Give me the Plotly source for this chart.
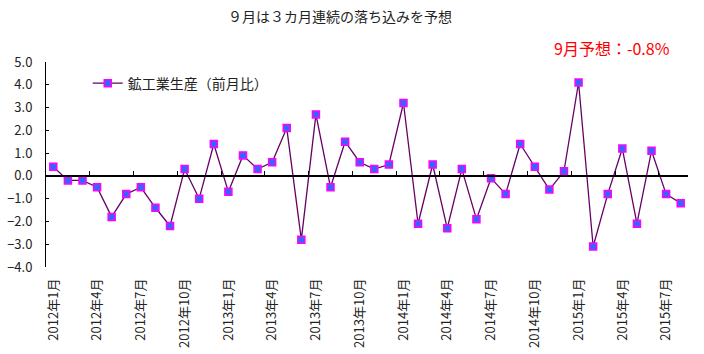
import plotly.graph_objects as go

# Data: monthly industrial production change (前月比, %), 2012年1月 – 2015年8月
years = [2012, 2013, 2014, 2015]
values_2012 = [0.4, -0.2, -0.2, -0.5, -1.8, -0.8, -0.5, -1.4, -2.2, 0.3, -1.0, 1.4]
values_2013 = [-0.7, 0.9, 0.3, 0.6, 2.1, -2.8, 2.7, -0.5, 1.5, 0.6, 0.3, 0.5]
values_2014 = [3.2, -2.1, 0.5, -2.3, 0.3, -1.9, -0.1, -0.8, 1.4, 0.4, -0.6, 0.2]
values_2015 = [4.1, -3.1, -0.8, 1.2, -2.1, 1.1, -0.8, -1.2]

values = values_2012 + values_2013 + values_2014 + values_2015
months = []
for y, vals in zip(years, [values_2012, values_2013, values_2014, values_2015]):
    for m in range(1, len(vals) + 1):
        months.append(f"{y}年{m}月")

idx = list(range(len(values)))
label_idx = idx[::3]
label_text = [months[i] for i in label_idx]
boundary_ticks = [i + 2.5 for i in label_idx if i + 2.5 < len(values) - 1]

series_name = "鉱工業生産（前月比）"
title_text = "９月は３カ月連続の落ち込みを予想"
note_text = "9月予想：-0.8%"

FONT = "Noto Sans CJK JP"
ymin, ymax = -4.0, 5.0
xr = [-0.5, len(values) - 0.5]

fig = go.Figure()
fig.add_trace(go.Scatter(
    x=idx, y=values, mode="lines+markers", name=series_name,
    line=dict(color="#660066", width=1.3),
    marker=dict(symbol="square", size=7, color="#3366FF",
                line=dict(color="#FF00FF", width=1.5)),
    showlegend=True,
))
# invisible trace on label axis
fig.add_trace(go.Scatter(x=idx, y=values, xaxis="x2", mode="lines",
                         line=dict(width=0), hoverinfo="skip",
                         showlegend=False, opacity=0))

zero_pos = (0 - ymin) / (ymax - ymin)

fig.update_layout(
    width=704, height=354,
    margin=dict(l=46, r=16, t=62, b=87),
    paper_bgcolor="white", plot_bgcolor="white",
    font=dict(family=FONT, color="#222222", size=12),
    showlegend=True,
    legend=dict(x=0.065, y=0.895, xanchor="left", yanchor="middle",
                bgcolor="rgba(0,0,0,0)", font=dict(size=14, family=FONT),
                itemwidth=30),
    xaxis=dict(range=xr, anchor="free", position=zero_pos, automargin=False,
               showline=True, linecolor="black", linewidth=1.5,
               tickmode="array", tickvals=boundary_ticks,
               ticks="inside", ticklen=4, tickcolor="black", tickwidth=1,
               showticklabels=False, showgrid=False, zeroline=False),
    xaxis2=dict(range=xr, overlaying="x", anchor="y", side="bottom",
                automargin=False,
                tickmode="array", tickvals=label_idx, ticktext=label_text,
                tickangle=-90, ticks="", showline=False, showgrid=False,
                zeroline=False, ticklabelstandoff=8,
                tickfont=dict(size=13, family=FONT, color="#222222")),
    yaxis=dict(range=[ymin, ymax], dtick=1, tickformat=".1f", automargin=False,
               showline=True, linecolor="black", linewidth=1,
               ticks="inside", ticklen=3, tickcolor="black",
               showgrid=False, zeroline=False,
               ticklabelstandoff=10,
               tickfont=dict(size=13, family=FONT, color="#222222")),
    annotations=[
        dict(text=title_text, xref="paper", yref="paper", x=340/704, y=1,
             xanchor="center", yanchor="middle", showarrow=False,
             font=dict(size=14, family=FONT, color="#222222")),
        dict(text=note_text, xref="paper", yref="paper", x=612/704, y=1,
             xanchor="center", yanchor="middle", showarrow=False,
             font=dict(size=16, family=FONT, color="#FF0000")),
    ],
)
plot_h = 354 - 62 - 87
plot_w = 704 - 46 - 16
fig.layout.annotations[0].update(x=(340 - 46) / plot_w, y=(267 - 16) / plot_h)
fig.layout.annotations[1].update(x=(612 - 46) / plot_w, y=(267 - 48) / plot_h)

fig.write_html("out.html")
